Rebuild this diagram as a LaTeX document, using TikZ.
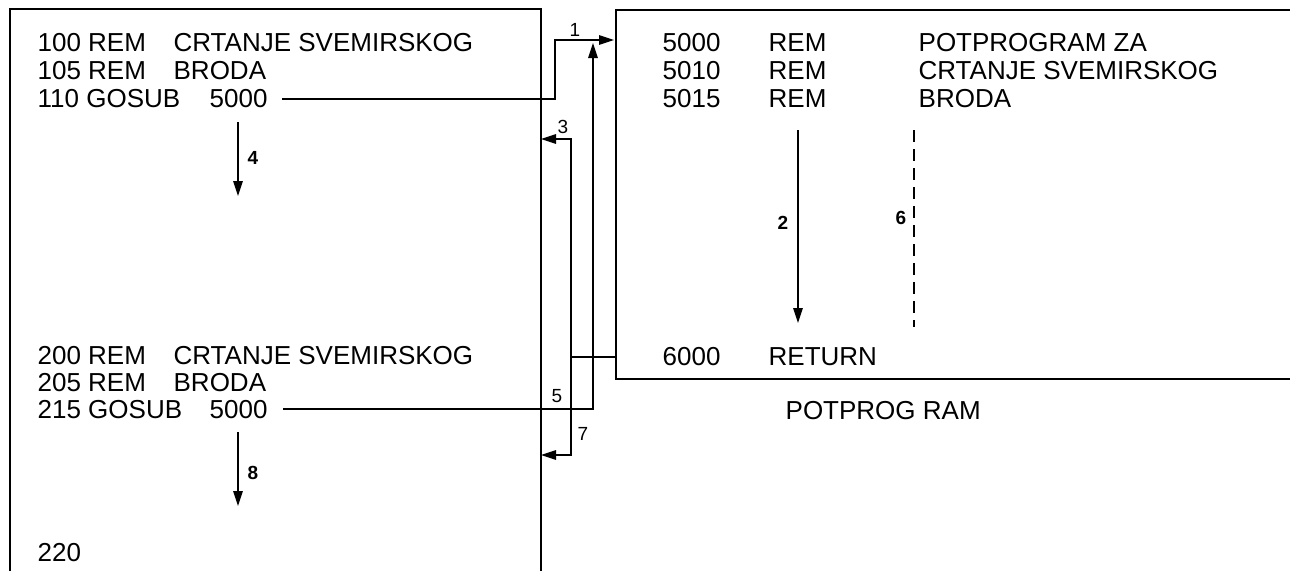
\documentclass[tikz,border=0pt]{standalone}
\usepackage{fontspec}
\setmainfont{Liberation Sans}
\usetikzlibrary{arrows.meta}
\begin{document}
\begin{tikzpicture}[x=1pt,y=-1pt,line width=1.3pt,
  txt/.style={anchor=west,inner sep=0pt,font=\fontsize{26}{28}\selectfont},
  lbl/.style={inner sep=0pt,font=\fontsize{19}{19}\selectfont},
  blbl/.style={inner sep=0pt,font=\fontsize{19}{19}\selectfont\bfseries},
  frame/.style={line width=1.4pt},
  conn/.style={line width=1.3pt},
  arr/.style={conn,-{Triangle[length=15pt,width=9.5pt]}},
  dashline/.style={line width=1.3pt,dash pattern=on 12pt off 7pt}]
\useasboundingbox (0,0) rectangle (1290,571);
% boxes
\draw[frame] (10,571) -- (10,9) -- (541,9) -- (541,571);
\draw[frame] (1290,10) -- (616,10) -- (616,379) -- (1290,379);
% left texts (top)
\node[txt] (l100) at (37,43) {100 REM};
\node[txt] (l100b) at (173,43) {CRTANJE SVEMIRSKOG};
\node[txt] (l105) at (37,71) {105 REM};
\node[txt] (l105b) at (173,71) {BRODA};
\node[txt] (l110) at (37,99) {110 GOSUB};
\node[txt] (l110b) at (209,99) {5000};
% left texts (bottom)
\node[txt] (l200) at (37,356) {200 REM};
\node[txt] (l200b) at (173,356) {CRTANJE SVEMIRSKOG};
\node[txt] (l205) at (37,383) {205 REM};
\node[txt] (l205b) at (173,383) {BRODA};
\node[txt] (l215) at (37,410) {215 GOSUB};
\node[txt] (l215b) at (209,410) {5000};
\node[txt] (l220) at (37,553) {220};
% right texts
\node[txt] (r5000) at (662,43) {5000};
\node[txt] (r5000b) at (768,43) {REM};
\node[txt] (r5000c) at (918,43) {POTPROGRAM ZA};
\node[txt] (r5010) at (662,71) {5010};
\node[txt] (r5010b) at (768,71) {REM};
\node[txt] (r5010c) at (918,71) {CRTANJE SVEMIRSKOG};
\node[txt] (r5015) at (662,99) {5015};
\node[txt] (r5015b) at (768,99) {REM};
\node[txt] (r5015c) at (918,99) {BRODA};
\node[txt] (r6000) at (662,357) {6000};
\node[txt] (ret) at (768,357) {RETURN};
\node[txt] (pot) at (785,411) {POTPROG RAM};
% coordinates
\coordinate (g1) at (282,99);
\coordinate (g1a) at (555,99);
\coordinate (g1b) at (555,40);
\coordinate (e1) at (614,40);
\coordinate (g5) at (283,409);
\coordinate (g5a) at (593,409);
\coordinate (e5) at (593,43);
\coordinate (rl) at (616,357);
\coordinate (rj) at (571,357);
\coordinate (r3a) at (571,139);
\coordinate (e3) at (541,139);
\coordinate (r7a) at (571,455);
\coordinate (e7) at (541,455);
\coordinate (a4s) at (238,122);
\coordinate (a4e) at (238,196);
\coordinate (a8s) at (238,432);
\coordinate (a8e) at (238,506);
\coordinate (a2s) at (798,130);
\coordinate (a2e) at (798,323);
\coordinate (d6s) at (914,130);
\coordinate (d6e) at (914,327);
% connectors
\draw[arr] (g1) -- (g1a) -- (g1b) -- (e1);
\draw[arr] (g5) -- (g5a) -- (e5);
\draw[conn] (rl) -- (rj);
\draw[arr] (rj) -- (r3a) -- (e3);
\draw[arr] (rj) -- (r7a) -- (e7);
\draw[arr] (a4s) -- (a4e);
\draw[arr] (a8s) -- (a8e);
\draw[arr] (a2s) -- (a2e);
\draw[dashline] (d6s) -- (d6e);
% labels
\node[lbl] (n1) at (575,30) {1};
\node[blbl] (n2) at (783,223) {2};
\node[lbl] (n3) at (563,127) {3};
\node[blbl] (n4) at (253,158) {4};
\node[lbl] (n5) at (557,396) {5};
\node[blbl] (n6) at (901,218) {6};
\node[lbl] (n7) at (583,434) {7};
\node[blbl] (n8) at (253,473) {8};
\end{tikzpicture}
\end{document}
